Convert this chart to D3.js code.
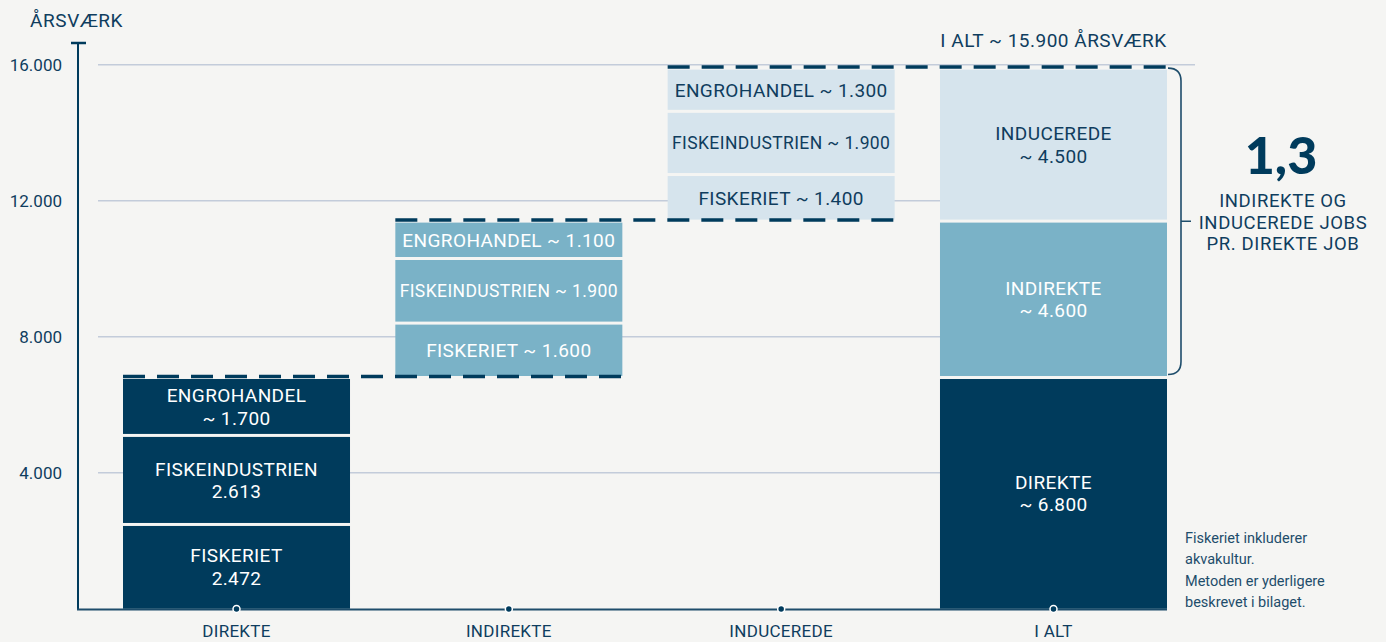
<!DOCTYPE html>
<html>
<head>
<meta charset="utf-8">
<script src="https://cdn.jsdelivr.net/npm/d3@7"></script>
<style>
  html, body { margin: 0; padding: 0; background: #f5f5f3; }
  svg { display: block; font-family: Roboto, "Open Sans", sans-serif; }
</style>
</head>
<body>
<svg id="chart" width="1386" height="642"></svg>
<script>
// ---- data ----
const categories = ["DIREKTE", "INDIREKTE", "INDUCEREDE", "I ALT"];
const segmentNames = ["FISKERIET", "FISKEINDUSTRIEN", "ENGROHANDEL"];
const direkteValues = [2472, 2613, 1700];
const direkteLabels = [["FISKERIET", "2.472"], ["FISKEINDUSTRIEN", "2.613"], ["ENGROHANDEL", "~ 1.700"]];
const indirekteValues = [1600, 1900, 1100];
const indirekteLabels = [["FISKERIET ~ 1.600"], ["FISKEINDUSTRIEN ~ 1.900"], ["ENGROHANDEL ~ 1.100"]];
const induceredeValues = [1400, 1900, 1300];
const induceredeLabels = [["FISKERIET ~ 1.400"], ["FISKEINDUSTRIEN ~ 1.900"], ["ENGROHANDEL ~ 1.300"]];
const totalNames = ["DIREKTE", "INDIREKTE", "INDUCEREDE"];
const totalValues = [6800, 4600, 4500];
const totalLabels = [["DIREKTE", "~ 6.800"], ["INDIREKTE", "~ 4.600"], ["INDUCEREDE", "~ 4.500"]];
const yTicks = [4000, 8000, 12000, 16000];
const yTitle = "ÅRSVÆRK";
const totalTitle = "I ALT ~ 15.900 ÅRSVÆRK";
const ratioValue = "1,3";
const ratioText = ["INDIREKTE OG", "INDUCEREDE JOBS", "PR. DIREKTE JOB"];
const footnote = ["Fiskeriet inkluderer", "akvakultur.", "Metoden er yderligere", "beskrevet i bilaget."];

// ---- styles ----
const NAVY = "#003b5c", MID = "#7ab2c7", LIGHT = "#d6e4ed", TEXT = "#0f3d5e", GRID = "#c3ccda";

const svg = d3.select("#chart");
const x = d3.scaleBand().domain(categories).range([123, 1167]).paddingInner(0.1664).paddingOuter(0);
const y = d3.scaleLinear().domain([0, 16000]).range([608.7, 64.7]);
const fmt = d3.formatLocale({decimal: ",", thousands: ".", grouping: [3], currency: ["", ""]}).format(",");
const yMax = d3.max(yTicks);

// gridlines
svg.append("g").selectAll("line").data(yTicks).join("line")
  .attr("x1", 98).attr("x2", d => d === yMax ? 1195 : 1160)
  .attr("y1", d => y(d)).attr("y2", d => y(d))
  .attr("stroke", GRID).attr("stroke-width", 1.5);

// tick labels
svg.append("g").selectAll("text").data(yTicks).join("text")
  .attr("x", 62).attr("y", d => y(d)).attr("dy", "0.35em")
  .attr("text-anchor", "end").attr("fill", TEXT).attr("font-size", 17)
  .text(d => fmt(d));

// y title
svg.append("text").attr("x", 30).attr("y", 27).attr("fill", TEXT)
  .attr("font-size", 19).attr("letter-spacing", 0.6).text(yTitle);

// axis lines
svg.append("line").attr("x1", 78).attr("x2", 78).attr("y1", 43).attr("y2", 610)
  .attr("stroke", NAVY).attr("stroke-width", 2);
svg.append("line").attr("x1", 71).attr("x2", 86).attr("y1", 43).attr("y2", 43)
  .attr("stroke", NAVY).attr("stroke-width", 2.5);
svg.append("line").attr("x1", 77).attr("x2", 1167).attr("y1", 609.5).attr("y2", 609.5)
  .attr("stroke", "#1e4d6b").attr("stroke-width", 2);

// build blocks: each stacked column scaled into its block from the totals
const blocks = [];
const cum = d3.cumsum(totalValues);
function addColumn(cat, values, labels, base, blockSize, fill, textFill) {
  const sum = d3.sum(values);
  let acc = base;
  values.forEach((v, i) => {
    const h = v / sum * blockSize;
    blocks.push({cat, y0: acc, y1: acc + h, label: labels[i], fill, textFill});
    acc += h;
  });
}
addColumn(categories[0], direkteValues, direkteLabels, 0, totalValues[0], NAVY, "#fff");
addColumn(categories[1], indirekteValues, indirekteLabels, cum[0], totalValues[1], MID, "#fff");
addColumn(categories[2], induceredeValues, induceredeLabels, cum[1], totalValues[2], LIGHT, TEXT);
const tFills = [NAVY, MID, LIGHT], tText = ["#fff", "#fff", TEXT];
let base = 0;
totalValues.forEach((v, i) => {
  blocks.push({cat: categories[3], y0: base, y1: base + v, label: totalLabels[i], fill: tFills[i], textFill: tText[i]});
  base += v;
});

const gap = 1.5;
const bw = x.bandwidth();
const bars = svg.append("g");
bars.selectAll("rect").data(blocks).join("rect")
  .attr("x", d => x(d.cat)).attr("width", bw)
  .attr("y", d => y(d.y1) + gap)
  .attr("height", d => Math.max(0, y(d.y0) - y(d.y1) - (d.y0 === 0 ? gap : 2 * gap)))
  .attr("fill", d => d.fill);

// labels
const lab = svg.append("g");
blocks.forEach(d => {
  const cy = (y(d.y0) + y(d.y1)) / 2;
  const n = d.label.length;
  const lh = 22.5;
  let fs = 19;
  const t = lab.append("text").attr("text-anchor", "middle").attr("fill", d.textFill)
    .attr("font-size", fs).attr("letter-spacing", 0.4);
  d.label.forEach((s, i) => {
    t.append("tspan").attr("x", x(d.cat) + bw / 2)
      .attr("y", cy + (i - (n - 1) / 2) * lh).attr("dy", "0.36em").text(s);
  });
  while (d3.max(t.selectAll("tspan").nodes(), e => e.getComputedTextLength()) > bw - 8 && fs > 10) {
    fs -= 0.25; t.attr("font-size", fs);
  }
});

// dashed connectors
const dashes = [
  {v: cum[0], a: categories[0], b: categories[1]},
  {v: cum[1], a: categories[1], b: categories[2]},
  {v: cum[2], a: categories[2], b: categories[3]}
];
svg.append("g").selectAll("line").data(dashes).join("line")
  .attr("x1", d => x(d.a)).attr("x2", d => x(d.b) + bw)
  .attr("y1", d => y(d.v) - 1).attr("y2", d => y(d.v) - 1)
  .attr("stroke", NAVY).attr("stroke-width", 3.5).attr("stroke-dasharray", "22 12");

// category dots & labels
svg.append("g").selectAll("circle").data(categories).join("circle")
  .attr("cx", d => x(d) + bw / 2).attr("cy", 609).attr("r", 3.5)
  .attr("fill", NAVY).attr("stroke", "#fff").attr("stroke-width", 1.5);
svg.append("g").selectAll("text").data(categories).join("text")
  .attr("x", d => x(d) + bw / 2).attr("y", 637).attr("text-anchor", "middle")
  .attr("fill", TEXT).attr("font-size", 17).attr("letter-spacing", 0.3).text(d => d);

// total title
svg.append("text").attr("x", x(categories[3]) + bw / 2).attr("y", 47).attr("text-anchor", "middle")
  .attr("fill", TEXT).attr("font-size", 19).attr("letter-spacing", 0.5).text(totalTitle);

// bracket
const yt = y(cum[2]), yb = y(cum[0]) - 3, bx = 1181, r = 13;
svg.append("path")
  .attr("d", `M${1168},${yt} Q${bx},${yt} ${bx},${yt + r} L${bx},${yb - r} Q${bx},${yb} ${1168},${yb} M${bx},${(yt + yb) / 2} L${bx + 10},${(yt + yb) / 2}`)
  .attr("fill", "none").attr("stroke", "#1e4d6b").attr("stroke-width", 1.6);

// ratio text
svg.append("text").attr("x", 1281).attr("y", 174).attr("text-anchor", "middle")
  .attr("fill", NAVY).attr("font-size", 52).attr("font-weight", 900)
  .attr("font-family", "Lato, Roboto, sans-serif").text(ratioValue);
svg.append("g").selectAll("text").data(ratioText).join("text")
  .attr("x", 1283).attr("y", (d, i) => 207 + i * 21.7).attr("text-anchor", "middle")
  .attr("fill", TEXT).attr("font-size", 18.5).attr("letter-spacing", 0.6).text(d => d);

// footnote
svg.append("g").selectAll("text").data(footnote).join("text")
  .attr("x", 1185).attr("y", (d, i) => 543 + i * 21.3)
  .attr("fill", "#1e4d6b").attr("font-size", 14.5).text(d => d);
</script>
</body>
</html>
